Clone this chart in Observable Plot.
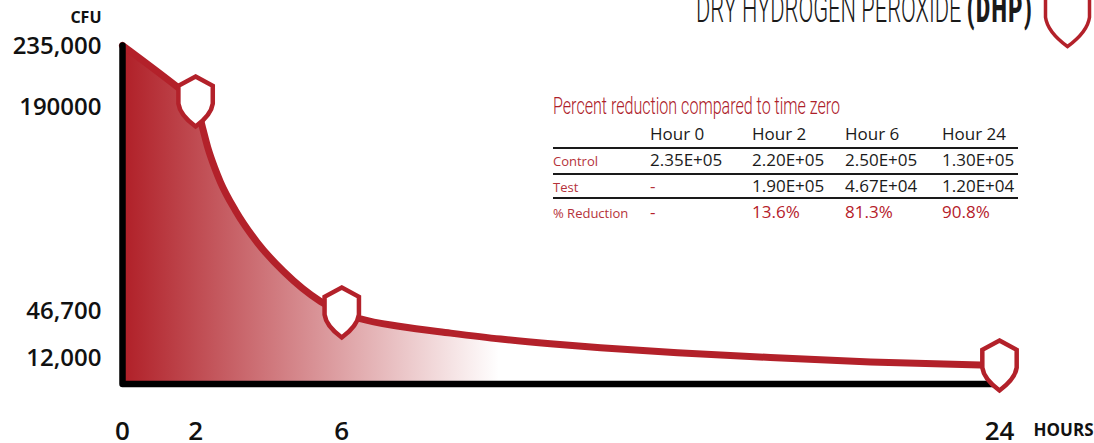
<!DOCTYPE html>
<html>
<head>
<meta charset="utf-8">
<script src="https://cdn.jsdelivr.net/npm/d3@7"></script>
<script src="https://cdn.jsdelivr.net/npm/@observablehq/plot@0.6"></script>
<style>
  html, body { margin: 0; background: #fff; overflow: hidden; }
  #stage { position: relative; width: 1094px; height: 443px; font-family: "Open Sans", sans-serif; }
  #stage svg { display: block; }
  .narrow { position: absolute; white-space: nowrap; font-family: Roboto, sans-serif; font-weight: 300; transform-origin: left top; }
  #title { left: 696px; top: -13px; font-size: 38px; color: #1a1a1a; transform: scaleX(0.574); }
  #title b { font-weight: 900; letter-spacing: 2.6px; }
  #subtitle { left: 553px; top: 93px; font-size: 23px; color: #ad2029; transform: scaleX(0.699); }
  table { position: absolute; left: 553px; top: 126px; width: 465px; border-collapse: collapse; table-layout: fixed; color: #1a1a1a; font-size: 17px; font-weight: 400; }
  td { padding: 0; white-space: nowrap; vertical-align: baseline; line-height: 16px; }
  tr { border-bottom: 2px solid #1a1a1a; }
  tr:nth-of-type(1) td { height: 21px; }
  tr:nth-of-type(2) td { height: 21px; padding-top: 3px; }
  tr:nth-of-type(3) td { height: 19px; padding-top: 3px; }
  tr:nth-of-type(4) td { height: 20px; padding-top: 5px; }
  tr:last-of-type { border-bottom: none; }
  td:first-child { color: #b5323a; font-size: 13px; }
  td.dash { color: #b5323a; }
  tr.pct td { color: #b5202a; font-size: 17px; }
  tr.pct td:first-child { color: #b5323a; font-size: 13px; }
</style>
</head>
<body>
<div id="stage">
  <div id="title" class="narrow">DRY HYDROGEN PEROXIDE <b>(DHP)</b></div>
  <div id="subtitle" class="narrow">Percent reduction compared to time zero</div>
  <table id="summary"></table>
</div>
<script>
// Decay curve of colony counts over 24 hours
const hours = [0, 1.53, 2, 2.19, 2.35, 2.52, 2.68, 3.09, 3.69, 4.41, 5.42, 6, 6.51, 7.61, 8.98, 10.35, 11.71, 13.08, 15.19, 17.73, 20.47, 23.48, 24];
const cfu = [235000, 201000, 190000, 172300, 157400, 145200, 135300, 116000, 94200, 74500, 54200, 46700, 42600, 37500, 33200, 29300, 26200, 23650, 20400, 17200, 14300, 12300, 12000];

// Sampling times marked with a shield
const markerHours = [2, 6, 24];
const markerCfu = [190000, 46700, 12000];

// Axis ticks
const xTicks = [0, 2, 6, 24];
const yTicks = [235000, 190000, 46700, 12000];
const yTickLabels = ["235,000", "190000", "46,700", "12,000"];
const yTickNudge = [1, 6, -1, -7];

// Summary table
const tableColumns = ["", "Hour 0", "Hour 2", "Hour 6", "Hour 24"];
const controlRow = ["Control", "2.35E+05", "2.20E+05", "2.50E+05", "1.30E+05"];
const testRow = ["Test", "-", "1.90E+05", "4.67E+04", "1.20E+04"];
const reductionRow = ["% Reduction", "-", "13.6%", "81.3%", "90.8%"];
const columnWidths = [97, 102, 93, 97, 76];

const RED = "#b3212a";

// The count axis is not quite uniform: each labelled count has its own height
const axisCounts = [0, 12000, 46700, 190000, 235000];
const axisHeights = [0, 18.5, 71.5, 282.5, 338.5];
const height = d3.scaleLinear().domain(axisCounts).range(axisHeights);

const curve = hours.map((h, i) => ({h, v: height(cfu[i])}));
const markers = markerHours.map((h, i) => ({h, v: height(markerCfu[i])}));

// Shield outline, scaled so that a dot radius equals its half height
const shield = {
  draw(ctx, size) {
    const k = Math.sqrt(size / Math.PI) / 24;
    ctx.moveTo(0, -24 * k);
    ctx.lineTo(16.5 * k, -15 * k);
    ctx.lineTo(16.5 * k, 2 * k);
    ctx.quadraticCurveTo(15 * k, 13 * k, 0, 24 * k);
    ctx.quadraticCurveTo(-15 * k, 13 * k, -16.5 * k, 2 * k);
    ctx.lineTo(-16.5 * k, -15 * k);
    ctx.closePath();
  }
};

// Horizontal fade used under the curve
function fadeDefs() {
  const ns = "http://www.w3.org/2000/svg";
  const defs = document.createElementNS(ns, "defs");
  const grad = document.createElementNS(ns, "linearGradient");
  grad.setAttribute("id", "fade");
  [[0, 1], [0.43, 0]].forEach(([offset, opacity]) => {
    const stop = document.createElementNS(ns, "stop");
    stop.setAttribute("offset", offset);
    stop.setAttribute("stop-color", "#b01f27");
    stop.setAttribute("stop-opacity", opacity);
    grad.appendChild(stop);
  });
  defs.appendChild(grad);
  return defs;
}

const chart = Plot.plot({
  width: 1094,
  height: 443,
  marginLeft: 122,
  marginRight: 95,
  marginTop: 45,
  marginBottom: 59.5,
  style: {fontFamily: '"Open Sans", sans-serif', background: "transparent", overflow: "hidden"},
  x: {domain: [0, 24], axis: null},
  y: {domain: [0, 338.5], axis: null},
  marks: [
    fadeDefs,
    Plot.areaY(curve, {x: "h", y: "v", curve: "monotone-x", fill: "url(#fade)"}),
    Plot.line(curve, {x: "h", y: "v", curve: "monotone-x", stroke: RED, strokeWidth: 7}),
    Plot.line([[0, 235000], [0, 0], [24, 0]], {x: d => d[0], y: d => height(d[1]), stroke: "#000", strokeWidth: 6.5, strokeLinejoin: "round", strokeLinecap: "round"}),
    Plot.dot(markers, {x: "h", y: "v", symbol: shield, r: 25, fill: "#fff", stroke: RED, strokeWidth: 4.5, strokeLinejoin: "miter"}),
    Plot.dot([0], {frameAnchor: "top-right", dx: 68, dy: -31, symbol: shield, r: 32, fill: "#fff", stroke: RED, strokeWidth: 3.5}),
    ...yTicks.map((t, i) => Plot.text([t], {
      x: () => 0, y: d => height(d), text: () => yTickLabels[i], dx: -21, dy: yTickNudge[i],
      textAnchor: "end", fontSize: 24, fontWeight: 550, fill: "#111"
    })),
    Plot.text(xTicks, {x: d => d, y: () => 0, text: d => String(d), dy: 48, fontSize: 26, fontWeight: 600, fill: "#111"}),
    Plot.text(["CFU"], {frameAnchor: "top-left", dx: -21, dy: -34, textAnchor: "end", fontSize: 16, fontWeight: 700, fill: "#111"}),
    Plot.text(["HOURS"], {frameAnchor: "bottom-right", dx: 94, dy: 52, textAnchor: "end", fontSize: 17, fontWeight: 700, fill: "#111"})
  ]
});
document.getElementById("stage").prepend(chart);

// Fill in the summary table
const table = d3.select("#summary");
table.append("colgroup").selectAll("col").data(columnWidths).join("col").style("width", d => d + "px");
const rows = [tableColumns, controlRow, testRow, reductionRow];
table.selectAll("tr").data(rows).join("tr")
  .attr("class", (d, i) => i === 3 ? "pct" : null)
  .selectAll("td").data(d => d).join("td")
  .attr("class", d => d === "-" ? "dash" : null)
  .text(d => d);
</script>
</body>
</html>
